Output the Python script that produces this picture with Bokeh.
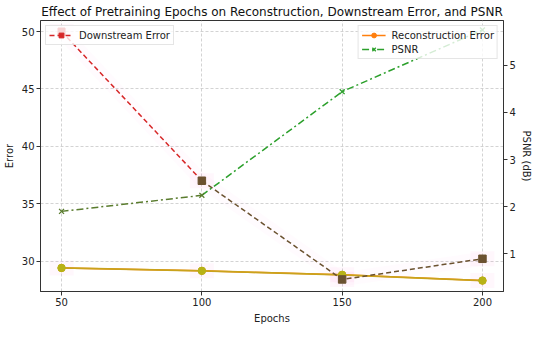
from bokeh.plotting import figure
from bokeh.models import Range1d, LinearAxis, FixedTicker, Legend, LegendItem
from bokeh.embed import file_html
from bokeh.resources import INLINE

# ---- data ----
epochs = [50, 100, 150, 200]
recon_error = [29.4, 29.15, 28.8, 28.3]
downstream_error = [50.0, 37.0, 28.4, 30.2]
psnr = [1.9, 2.24, 4.44, 5.75]
left_ticks = [30, 35, 40, 45, 50]
right_ticks = [1, 2, 3, 4, 5]

FONT = "DejaVu Sans"
RED = "#d62728"
BROWN = "#6b5230"
ORANGE = "#ff7f0e"
GOLD = "#c9a31c"
GOLD_MK = "#b7b216"
GREEN = "#2ca02c"
OLIVE = "#5a7c2e"

p = figure(width=534, height=326, x_range=Range1d(42.5, 207.5), y_range=Range1d(27.35, 50.96),
           output_backend="svg", toolbar_location=None,
           title="Effect of Pretraining Epochs on Reconstruction, Downstream Error, and PSNR")
p.extra_y_ranges = {"psnr": Range1d(0.2, 5.95)}
p.min_border_left = 2
p.min_border_right = 0
p.min_border_top = 2
p.min_border_bottom = 2
p.background_fill_color = "white"
p.border_fill_color = "white"
p.outline_line_color = "#333333"
p.outline_line_width = 1

p.title.text_font = FONT
p.title.text_font_size = "12px"
p.title.text_font_style = "normal"
p.title.align = "center"
p.title.text_color = "#111111"
p.title.standoff = 4

right_axis = LinearAxis(y_range_name="psnr", axis_label="PSNR (dB)")
p.add_layout(right_axis, "right")

p.xaxis.axis_label = "Epochs"
p.yaxis[0].axis_label = "Error"
p.xaxis.ticker = FixedTicker(ticks=epochs)
p.yaxis[0].ticker = FixedTicker(ticks=left_ticks)
right_axis.ticker = FixedTicker(ticks=right_ticks)

for ax in [p.xaxis[0], p.yaxis[0], right_axis]:
    ax.axis_label_text_font = FONT
    ax.axis_label_text_font_size = "10px"
    ax.axis_label_text_font_style = "normal"
    ax.axis_label_text_color = "#222222"
    ax.major_label_text_font = FONT
    ax.major_label_text_font_size = "10px"
    ax.major_label_text_color = "#222222"
    ax.axis_line_color = "#333333"
    ax.major_tick_line_color = "#333333"
    ax.major_tick_out = 4
    ax.major_tick_in = 0
    ax.minor_tick_line_color = None
    ax.major_label_standoff = 2
    ax.axis_label_standoff = 4
right_axis.axis_label_standoff = 2

p.xgrid.ticker = FixedTicker(ticks=epochs)
p.ygrid.ticker = FixedTicker(ticks=left_ticks)
for g in [p.xgrid[0], p.ygrid[0]]:
    g.grid_line_color = "#c8c8c8"
    g.grid_line_dash = "3 2"
    g.grid_line_alpha = 0.8

# faint pink highlight boxes around error points
for ys in [downstream_error, recon_error]:
    p.rect(x=epochs, y=ys, width=24, height=15, width_units="screen", height_units="screen",
           fill_color="#ff70d0", fill_alpha=0.06, line_color=None)
p.line(epochs, downstream_error, line_width=14, line_color="#ff80d0", line_alpha=0.03)

# Reconstruction error: base (legend colour) then tinted overlay
r_rec_line = p.line(epochs, recon_error, line_color=ORANGE, line_width=1.5)
r_rec_mk = p.scatter(epochs, recon_error, marker="circle", size=7, fill_color=ORANGE, line_color=ORANGE)
p.line(epochs, recon_error, line_color=GOLD, line_width=1.7)
p.scatter(epochs, recon_error, marker="circle", size=7.5, fill_color=GOLD_MK, line_color=GOLD_MK)

# Downstream error
r_ds_line = p.line(epochs[:2], downstream_error[:2], line_color=RED, line_width=1.5, line_dash="5 3")
r_ds_mk = p.scatter(epochs[:1], downstream_error[:1], marker="square", size=7, fill_color=RED, line_color=RED)
p.line(epochs[1:], downstream_error[1:], line_color=BROWN, line_width=1.5, line_dash="5 3")
p.scatter(epochs[1:], downstream_error[1:], marker="square", size=7.5, fill_color=BROWN, line_color=BROWN)

# PSNR (right axis)
r_ps_line = p.line(epochs[1:], psnr[1:], line_color=GREEN, line_width=1.5, line_dash="7 3 2 3",
                   y_range_name="psnr")
r_ps_mk = p.scatter(epochs[2:], psnr[2:], marker="x", size=7, line_color=GREEN, line_width=1.3,
                    y_range_name="psnr")
p.line(epochs[:2], psnr[:2], line_color=OLIVE, line_width=1.5, line_dash="7 3 2 3", y_range_name="psnr")
p.scatter(epochs[:2], psnr[:2], marker="x", size=7, line_color=OLIVE, line_width=1.3, y_range_name="psnr")

def style_legend(lg):
    lg.label_text_font = FONT
    lg.label_text_font_size = "10px"
    lg.label_text_color = "#222222"
    lg.glyph_width = 24
    lg.glyph_height = 12
    lg.label_height = 12
    lg.label_standoff = 6
    lg.spacing = 2
    lg.padding = 3
    lg.margin = 5
    lg.border_line_color = "#cccccc"
    lg.border_line_width = 1
    lg.background_fill_color = "white"
    lg.background_fill_alpha = 0.8

left_legend = Legend(items=[LegendItem(label="Downstream Error", renderers=[r_ds_line, r_ds_mk])],
                     location="top_left")
right_legend = Legend(items=[LegendItem(label="Reconstruction Error", renderers=[r_rec_line, r_rec_mk]),
                             LegendItem(label="PSNR", renderers=[r_ps_line, r_ps_mk])],
                      location="top_right")
style_legend(left_legend)
style_legend(right_legend)
p.add_layout(left_legend)
p.add_layout(right_legend)

open("out.html", "w").write(file_html(p, INLINE))
